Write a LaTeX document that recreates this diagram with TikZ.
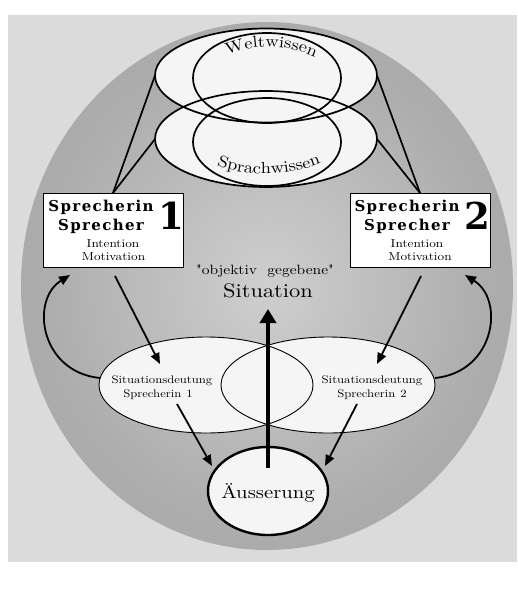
\documentclass[tikz,border=0pt]{standalone}
\usepackage{fontspec}
\setmainfont{lmroman10-regular.otf}[FakeStretch=1.15]
\newfontfamily\plainlm{lmroman10-regular.otf}[FakeStretch=1.15]
\newfontfamily\slabfont{DejaVu Serif}[LetterSpace=9]
\newfontfamily\numfont{DejaVu Serif}
\usetikzlibrary{shapes.geometric,arrows.meta,decorations.text,calc}
\definecolor{paper}{gray}{0.86}
\definecolor{rimgray}{gray}{0.58}
\definecolor{midgray}{gray}{0.68}
\definecolor{centergray}{gray}{0.81}
\definecolor{pale}{gray}{0.96}
\pgfdeclareradialshading{ringshade}{\pgfpoint{0bp}{0bp}}{color(0bp)=(centergray); color(22bp)=(midgray); color(50bp)=(rimgray)}
\newcommand\curvefont{\fontsize{16}{18}\selectfont}
\begin{document}
\begin{tikzpicture}[x=1pt,y=-1pt,
  every node/.style={inner sep=0pt, outer sep=0pt},
  ring/.style={ellipse, draw, line width=1.7pt},
  thinring/.style={ellipse, draw, line width=0.9pt},
  spkbox/.style={draw, line width=1pt, fill=white, minimum width=140pt, minimum height=74pt},
  arr/.style={line width=1.8pt, -{Triangle[length=11pt,width=9pt]}},
  tie/.style={line width=1.7pt},
  slab/.style={anchor=base, font=\slabfont\bfseries\fontsize{15}{17}\selectfont},
  bignum/.style={anchor=base, font=\numfont\bfseries\fontsize{37}{40}\selectfont},
  small/.style={anchor=base, font=\fontsize{11.5}{13}\selectfont},
  sdtext/.style={anchor=base, font=\fontsize{11}{13}\selectfont}
]
\useasboundingbox (0,0) rectangle (517,592);
\fill[white] (0,0) rectangle (517,592);
\fill[paper] (8,15) rectangle (517,562);
\shade[shading=ringshade] (267,286) ellipse [x radius=246, y radius=264];

% top knowledge ellipses: fills
\fill[pale] (266,75.5) ellipse [x radius=111, y radius=47];
\fill[pale] (266,139) ellipse [x radius=111, y radius=48];
% outlines
\node[ring, minimum width=222pt, minimum height=94pt] (wo) at (266,75.5) {};
\node[ring, minimum width=148pt, minimum height=90pt] (wi) at (267,78) {};
\node[ring, minimum width=222pt, minimum height=96pt] (so) at (266,139) {};
\node[ring, minimum width=148pt, minimum height=88pt] (si) at (267,142) {};
\path[decorate, decoration={text along path, text align=center, text={|\curvefont|Weltwissen}}]
  (222,57) .. controls (250,43) and (290,43) .. (320,60);
\path[decorate, decoration={text along path, text align=center, text={|\curvefont|Sprachwissen}}]
  (210,162) .. controls (240,178) and (292,178) .. (328,160);

% speaker boxes
\node[spkbox] (box1) at (113,230) {};
\node[spkbox] (box2) at (420,230) {};
\node[slab] (b1a) at (101,211) {Sprecherin};
\node[slab] (b1b) at (101,230) {Sprecher};
\node[bignum] (b1n) at (171,229) {1};
\node[small] (b1c) at (113,247) {Intention};
\node[small] (b1d) at (113.5,260) {Motivation};
\node[slab] (b2a) at (407,211) {Sprecherin};
\node[slab] (b2b) at (407,230) {Sprecher};
\node[bignum] (b2n) at (477,229) {2};
\node[small] (b2c) at (417,247) {Intention};
\node[small] (b2d) at (420,260) {Motivation};

\draw[tie] (box1.north) -- (wo.west);
\draw[tie] (box1.north) -- (so.west);
\draw[tie] (box2.north) -- (wo.east);
\draw[tie] (box2.north) -- (so.east);

% situation
\node[anchor=base, font=\plainlm\fontsize{13.5}{15}\selectfont] (obj) at (265,274) {"objektiv\ \ gegebene"};
\node[anchor=base, font=\fontsize{19.5}{22}\selectfont] (sit) at (268,297) {Situation};

% interpretation ellipses
\fill[pale] (206,385) ellipse [x radius=107, y radius=48];
\fill[pale] (328,385) ellipse [x radius=107, y radius=48];
\node[thinring, minimum width=214pt, minimum height=96pt] (sd1) at (206,385) {};
\node[thinring, minimum width=214pt, minimum height=96pt] (sd2) at (328,385) {};
\node[sdtext] (sd1a) at (162,383) {Situationsdeutung};
\node[sdtext] (sd1b) at (158,397) {Sprecherin\hspace{5pt}1};
\node[sdtext] (sd2a) at (372,383) {Situationsdeutung};
\node[sdtext] (sd2b) at (372,397) {Sprecherin\hspace{5pt}2};

% utterance
\node[ellipse, draw, line width=2.4pt, fill=pale, minimum width=120pt, minimum height=88pt] (aus) at (268,491) {};
\node[anchor=base, font=\fontsize{18}{20}\selectfont] (aust) at (268,498) {Äusserung};

% arrow coordinates
\coordinate (p1s) at (115,276); \coordinate (p1e) at (160,364);
\coordinate (p2s) at (421,276); \coordinate (p2e) at (377,364);
\coordinate (q1s) at (177,404); \coordinate (q1e) at (212,466);
\coordinate (q2s) at (357,404); \coordinate (q2e) at (325,466);
\coordinate (ts) at (268,468); \coordinate (te) at (268,309);
\coordinate (c1s) at (100,378); \coordinate (c1e) at (70,275);
\coordinate (c2s) at (435,378); \coordinate (c2e) at (465,275);

\draw[arr] (p1s) -- (p1e);
\draw[arr] (p2s) -- (p2e);
\draw[arr] (q1s) -- (q1e);
\draw[arr] (q2s) -- (q2e);
\draw[line width=4.5pt, -{Triangle[length=14pt,width=16pt]}] (ts) -- (te);
\draw[arr] (c1s) .. controls (40,372) and (30,300) .. (c1e);
\draw[arr] (c2s) .. controls (495,372) and (505,300) .. (c2e);
\end{tikzpicture}
\end{document}
